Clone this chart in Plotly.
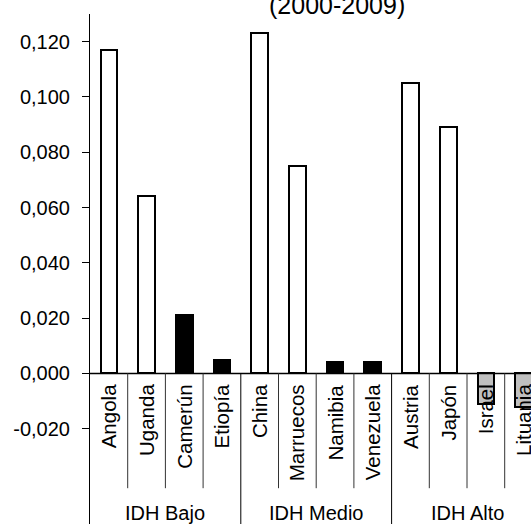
import plotly.graph_objects as go

countries = ["Angola", "Uganda", "Camerún", "Etiopía", "China", "Marruecos",
             "Namibia", "Venezuela", "Austria", "Japón", "Israel", "Lituania"]
values = [0.117, 0.064, 0.021, 0.005, 0.123, 0.075,
          0.004, 0.004, 0.105, 0.089, -0.011, -0.012]
groups = ["IDH Bajo", "IDH Medio", "IDH Alto"]
group_size = 4
y_ticks = [-0.02, 0.0, 0.02, 0.04, 0.06, 0.08, 0.10, 0.12]
y_tick_labels = [f"{v:.3f}".replace(".", ",") for v in y_ticks]
title_text = "(2000-2009)"

fill_colors = ["white", "white", "black", "black", "white", "white",
               "black", "black", "white", "white", "#c0c0c0", "#c0c0c0"]

FONT = "Arial, Liberation Sans, sans-serif"
x_idx = list(range(len(countries)))

fig = go.Figure()
fig.add_trace(go.Bar(
    x=x_idx, y=values, width=0.443,
    marker=dict(color=fill_colors, line=dict(color="black", width=2)),
    showlegend=False, hoverinfo="skip",
))

n = len(countries)
y_bottom = -0.05445
y_sep_bottom = -0.0415

shapes = []
shapes.append(dict(type="line", xref="x", yref="y", x0=-0.5, x1=n - 0.5, y0=0, y1=0,
                   line=dict(color="black", width=1.5), layer="above"))
for i in range(1, n + 1):
    xpos = i - 0.5
    if i % group_size == 0:
        y1 = y_bottom
        col = "black"
    else:
        y1 = y_sep_bottom
        col = "#333333"
    shapes.append(dict(type="line", xref="x", yref="y", x0=xpos, x1=xpos, y0=0, y1=y1,
                       line=dict(color=col, width=1)))

annotations = []
for i, c in enumerate(countries):
    annotations.append(dict(x=i, y=0, xref="x", yref="y", text=c, showarrow=False,
                            textangle=-90, yanchor="top", xanchor="center", yshift=-9,
                            font=dict(family=FONT, size=20.5, color="black")))
for g, name in enumerate(groups):
    annotations.append(dict(x=g * group_size + (group_size - 1) / 2, y=0, xref="x", yref="paper",
                            text=name, showarrow=False, yanchor="bottom", yshift=-2,
                            font=dict(family=FONT, size=20, color="black")))
annotations.append(dict(x=0.56, y=1, xref="paper", yref="paper", text=title_text,
                        showarrow=False, yanchor="bottom", yshift=-7,
                        font=dict(family=FONT, size=25, color="black")))

fig.update_layout(
    width=531, height=524,
    margin=dict(l=90, r=0, t=14, b=0, autoexpand=False),
    paper_bgcolor="white", plot_bgcolor="white",
    bargap=0,
    shapes=shapes, annotations=annotations,
    xaxis=dict(range=[-0.5, -0.5 + 441 / 37.7], showticklabels=False, showgrid=False,
               zeroline=False, showline=False, ticks=""),
    yaxis=dict(range=[y_bottom, 0.13], tickvals=y_ticks, ticktext=y_tick_labels,
               showgrid=False, zeroline=False, showline=True, linecolor="black", linewidth=1,
               ticks="outside", ticklen=7, tickcolor="black", tickwidth=1,
               ticklabelstandoff=8,
               tickfont=dict(family=FONT, size=20, color="black")),
    font=dict(family=FONT, size=20, color="black"),
)

fig.write_html("out.html", config={"displayModeBar": False},
               post_script="document.body.style.margin='0px';")
